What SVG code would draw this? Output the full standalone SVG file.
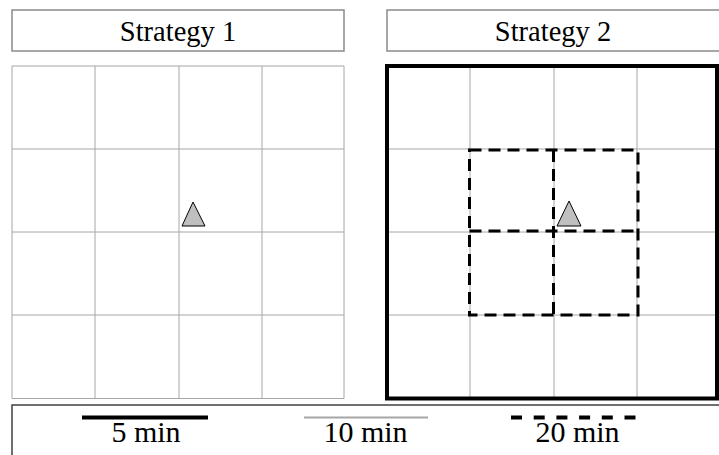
<svg xmlns="http://www.w3.org/2000/svg" width="719" height="455" viewBox="0 0 719 455">
<style>
.title{fill:#fff;stroke:#8a8a8a;stroke-width:1.5}
.t{font-family:"Liberation Serif","Times New Roman",serif;fill:#000;text-anchor:middle}
.grid{stroke:#a6a6a6;stroke-width:1;fill:none}
.dash{stroke:#000;stroke-width:3;fill:none;stroke-dasharray:12 7}
.tri{fill:#bfbfbf;stroke:#000;stroke-width:1}
</style>
<rect width="719" height="455" fill="#fff"/>
<g id="title1">
<rect class="title" x="12" y="10" width="332" height="41"/>
<text class="t" x="178" y="41" font-size="28.5">Strategy 1</text>
</g>
<g id="title2">
<rect class="title" x="387" y="10" width="340" height="41"/>
<text class="t" x="553" y="41" font-size="28.5">Strategy 2</text>
</g>
<g id="grid1">
<path class="grid" d="M12 66H344V398.5H12Z M95 66V398.5 M179 66V398.5 M262 66V398.5 M12 149H344 M12 232H344 M12 315H344"/>
<polygon class="tri" points="193,202 182,226 205,226"/>
</g>
<g id="grid2">
<path class="grid" d="M470 66V398.5 M554 66V398.5 M637 66V398.5 M387 149H717 M387 232H717 M387 315H717"/>
<rect x="387" y="66" width="330" height="332.5" fill="none" stroke="#000" stroke-width="4"/>
<g id="dashed">
<rect class="dash" x="469.5" y="150" width="168.5" height="165"/>
<path class="dash" d="M553.5 150V315 M469.5 231H638"/>
</g>
<polygon class="tri" points="569,201 557,226 581,226"/>
</g>
<g id="legend">
<rect x="12" y="405" width="720" height="60" fill="#fff" stroke="#404040" stroke-width="1.5"/>
<line x1="82" y1="417.5" x2="208" y2="417.5" stroke="#000" stroke-width="4"/>
<text class="t" x="146" y="442" font-size="30">5 min</text>
<line x1="304" y1="417.5" x2="428" y2="417.5" stroke="#a6a6a6" stroke-width="2"/>
<text class="t" x="365.5" y="442" font-size="30">10 min</text>
<line x1="511" y1="417.5" x2="638" y2="417.5" stroke="#000" stroke-width="4" stroke-dasharray="11 11.7"/>
<text class="t" x="577.5" y="442" font-size="30">20 min</text>
</g>
</svg>
